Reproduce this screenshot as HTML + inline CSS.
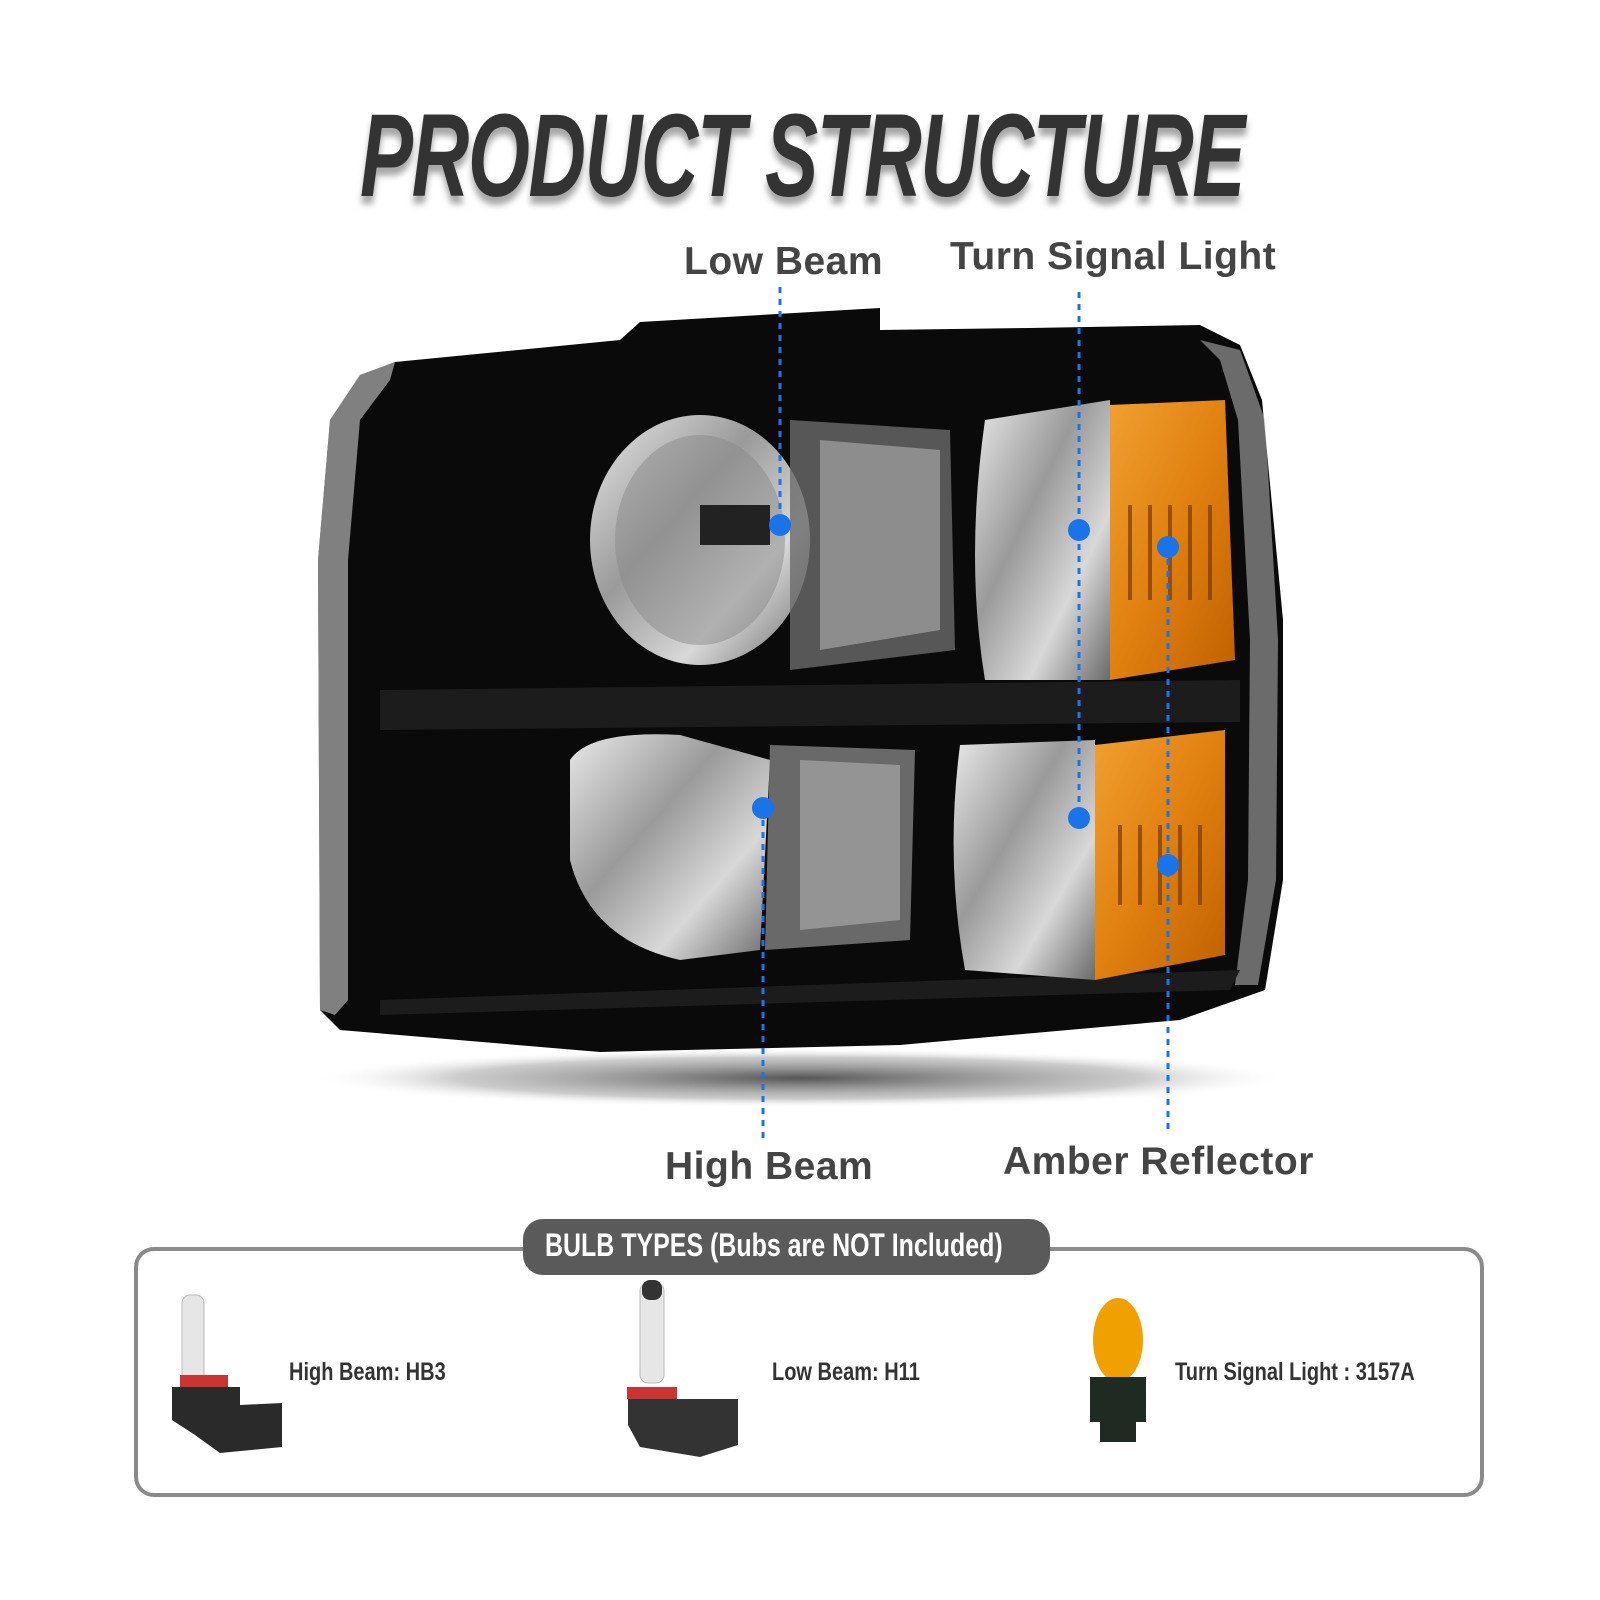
<!DOCTYPE html>
<html><head><meta charset="utf-8"><style>
body{margin:0;width:1600px;height:1600px;background:#fff;position:relative;overflow:hidden;font-family:"Liberation Sans",sans-serif}
.t{position:absolute;white-space:nowrap}
.lbl{font-size:39px;font-weight:bold;color:#444;letter-spacing:0.5px}
</style></head><body>
<div class="t" style="left:360px;top:88px;font-size:118px;font-weight:bold;font-style:italic;color:#333;transform:scaleX(0.675);transform-origin:left top;text-shadow:0 8px 8px rgba(0,0,0,0.35);letter-spacing:-2px">PRODUCT STRUCTURE</div>
<div class="t lbl" style="left:684px;top:240px">Low Beam</div>
<div class="t lbl" style="left:950px;top:235px">Turn Signal Light</div>
<div class="t lbl" style="left:665px;top:1145px">High Beam</div>
<div class="t lbl" style="left:1003px;top:1140px">Amber Reflector</div>

<svg style="position:absolute;left:0;top:0" width="1600" height="1600">
<defs>
<radialGradient id="sh" cx="0.5" cy="0.5" r="0.5"><stop offset="0" stop-color="#555"/><stop offset="0.7" stop-color="#aaa" stop-opacity="0.6"/><stop offset="1" stop-color="#fff" stop-opacity="0"/></radialGradient>
<linearGradient id="chr" x1="0" y1="0" x2="1" y2="1"><stop offset="0" stop-color="#e8e8e8"/><stop offset="0.4" stop-color="#9a9a9a"/><stop offset="0.7" stop-color="#d8d8d8"/><stop offset="1" stop-color="#6a6a6a"/></linearGradient>
<linearGradient id="amb" x1="0" y1="0" x2="1" y2="1"><stop offset="0" stop-color="#f0a030"/><stop offset="0.5" stop-color="#e08010"/><stop offset="1" stop-color="#c06000"/></linearGradient>
</defs>
<ellipse cx="800" cy="1078" rx="490" ry="30" fill="url(#sh)"/>
<path d="M620 340 L640 322 L880 308 L880 330 L1030 328 L1200 325 L1240 345 L1262 400 L1283 620 L1283 880 L1265 990 L1180 1020 L900 1045 L600 1052 L340 1030 L320 1010 L318 560 L330 420 L360 375 L395 362 Z" fill="#0a0a0a"/>
<path d="M330 420 L360 375 L395 362 L390 380 L360 420 L348 560 L348 1000 L335 1015 L320 1010 L318 560 Z" fill="#cfcfcf" opacity="0.6"/>
<path d="M1200 340 L1240 350 L1265 420 L1278 640 L1276 880 L1258 985 L1235 985 L1248 880 L1250 640 L1238 420 L1220 360 Z" fill="#bbb" opacity="0.55"/>
<path d="M380 690 L1240 680 L1240 722 L380 730 Z" fill="#1c1c1c"/>
<path d="M380 1000 L1240 970 L1230 990 L380 1015 Z" fill="#1c1c1c"/>
<ellipse cx="700" cy="540" rx="110" ry="125" fill="url(#chr)"/>
<ellipse cx="700" cy="540" rx="85" ry="105" fill="#8a8a8a" opacity="0.5"/>
<rect x="700" y="505" width="70" height="40" fill="#222"/>
<path d="M790 420 L950 430 L955 650 L790 670 Z" fill="#6a6a6a" opacity="0.8"/>
<path d="M820 440 L940 450 L940 630 L820 650 Z" fill="#b0b0b0" opacity="0.6"/>
<path d="M570 760 Q590 730 680 735 L770 760 L760 950 L680 960 Q590 940 570 860 Z" fill="url(#chr)"/>
<path d="M770 745 L915 750 L910 940 L765 950 Z" fill="#7a7a7a" opacity="0.85"/>
<path d="M800 760 L900 765 L900 920 L800 930 Z" fill="#c0c0c0" opacity="0.5"/>
<path d="M985 420 L1110 400 L1110 680 L985 680 Q965 560 985 420 Z" fill="url(#chr)"/>
<path d="M1110 405 L1225 400 L1235 660 L1110 680 Z" fill="url(#amb)"/>
<path d="M960 745 L1095 740 L1095 980 L965 970 Q945 860 960 745 Z" fill="url(#chr)"/>
<path d="M1095 745 L1225 730 L1225 955 L1095 980 Z" fill="url(#amb)"/>
<g stroke="#7a3a00" stroke-width="4" opacity="0.7">
<line x1="1130" y1="505" x2="1130" y2="600"/><line x1="1150" y1="505" x2="1150" y2="600"/><line x1="1170" y1="505" x2="1170" y2="600"/><line x1="1190" y1="505" x2="1190" y2="600"/><line x1="1210" y1="505" x2="1210" y2="600"/>
<line x1="1120" y1="825" x2="1120" y2="905"/><line x1="1140" y1="825" x2="1140" y2="905"/><line x1="1160" y1="825" x2="1160" y2="905"/><line x1="1180" y1="825" x2="1180" y2="905"/><line x1="1200" y1="825" x2="1200" y2="905"/>
</g>
<g stroke="#1a73e8" stroke-width="3" stroke-dasharray="6 6">
<line x1="780" y1="287" x2="780" y2="525"/>
<line x1="1079" y1="292" x2="1079" y2="818"/>
<line x1="763" y1="808" x2="763" y2="1144"/>
<line x1="1168" y1="547" x2="1168" y2="1129"/>
</g>
<g fill="#1a73e8">
<circle cx="780" cy="525" r="11"/><circle cx="1079" cy="530" r="11"/><circle cx="1168" cy="547" r="11"/>
<circle cx="763" cy="808" r="11"/><circle cx="1079" cy="818" r="11"/><circle cx="1168" cy="865" r="11"/>
</g>
<rect x="136" y="1249" width="1346" height="246" rx="18" fill="none" stroke="#8a8a8a" stroke-width="4"/>
<rect x="523" y="1219" width="527" height="56" rx="20" fill="#5a5a5a"/>
<g>
<rect x="182" y="1295" width="22" height="95" rx="8" fill="#e6e6e6" stroke="#bbb"/>
<rect x="180" y="1375" width="48" height="12" fill="#c33"/>
<path d="M172 1387 L240 1387 L240 1405 L282 1403 L282 1447 L220 1453 L195 1435 L172 1420 Z" fill="#2a2a2a"/>
<rect x="640" y="1283" width="24" height="100" rx="8" fill="#e6e6e6" stroke="#bbb"/>
<rect x="642" y="1280" width="20" height="20" rx="8" fill="#333"/>
<rect x="627" y="1387" width="50" height="12" fill="#c33"/>
<path d="M628 1399 L738 1399 L738 1445 L700 1457 L640 1447 L628 1425 Z" fill="#333"/>
<ellipse cx="1118" cy="1340" rx="25" ry="42" fill="#f0a000"/>
<rect x="1090" y="1377" width="56" height="45" fill="#1e2a22"/>
<rect x="1100" y="1420" width="36" height="22" fill="#1e2a22"/>
</g>
</svg>
<div class="t" style="left:545px;top:1227px;font-size:32px;font-weight:bold;color:#fff;transform:scaleX(0.78);transform-origin:left top">BULB TYPES (Bubs are NOT Included)</div>
<div class="t" style="left:289px;top:1358px;font-size:25px;font-weight:bold;color:#333;transform:scaleX(0.8);transform-origin:left top">High Beam: HB3</div>
<div class="t" style="left:772px;top:1358px;font-size:25px;font-weight:bold;color:#333;transform:scaleX(0.8);transform-origin:left top">Low Beam: H11</div>
<div class="t" style="left:1175px;top:1358px;font-size:25px;font-weight:bold;color:#333;transform:scaleX(0.8);transform-origin:left top">Turn Signal Light : 3157A</div>
</body></html>
